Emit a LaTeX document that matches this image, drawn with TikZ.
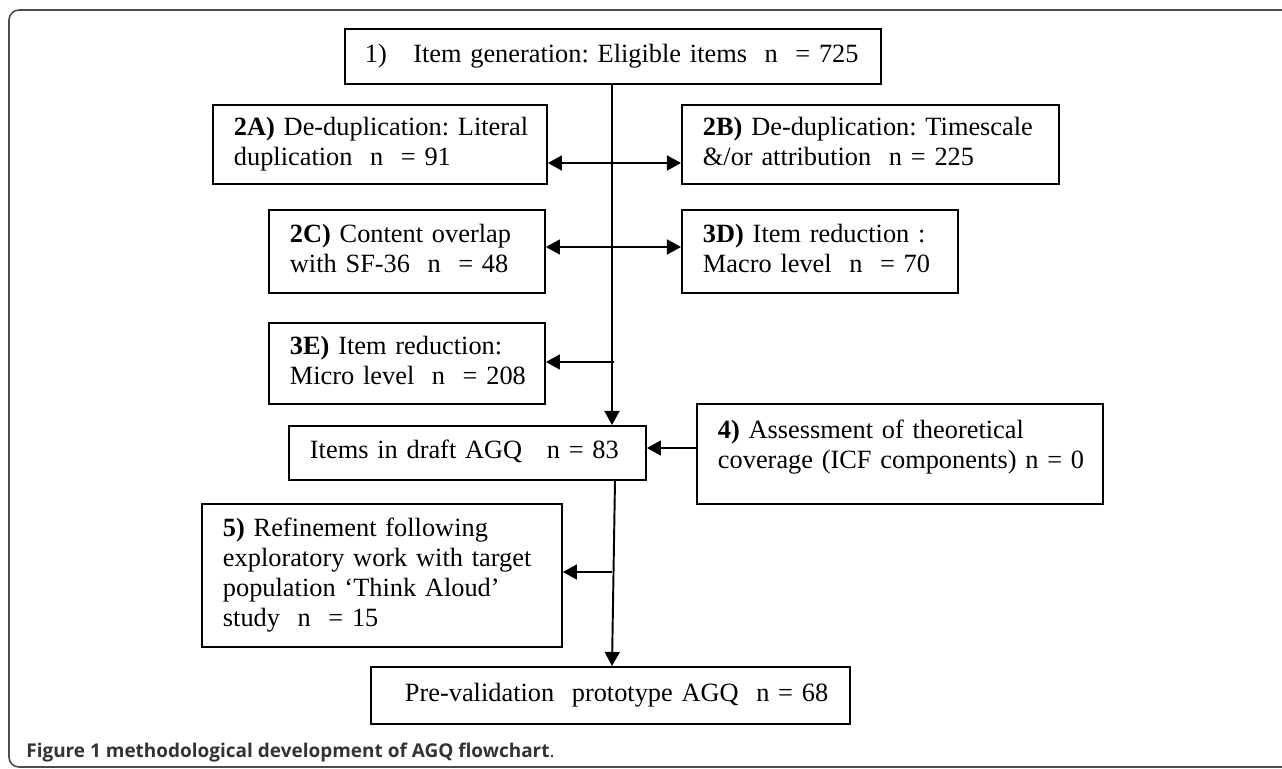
\documentclass[tikz,border=0pt]{standalone}
\usepackage{fontspec}
\setmainfont{Liberation Serif}
\newfontfamily\capfont{Open Sans}
\usetikzlibrary{arrows.meta}
\frenchspacing
\definecolor{framegray}{rgb}{0.3,0.3,0.3}
\definecolor{capgray}{rgb}{0.2,0.2,0.2}
% lines of a box, kept on the left, never broken
\newcommand{\boxlines}[1]{\begin{tabular}{@{}l@{}}#1\end{tabular}}
\tikzset{
    stage/.style={draw, line width=1.1pt, anchor=north west, inner ysep=0pt,
        inner xsep=0.42cm, align=left, font=\fontsize{15}{17}\selectfont},
    flow/.style={line width=1.1pt, -{Triangle[length=8pt,width=8.5pt]}}
}
\begin{document}
\begin{tikzpicture}[x=0.02cm,y=-0.02cm]
    \useasboundingbox (0,0) rectangle (1282,768);
    \clip (0,0) rectangle (1282,768);

    % outer frame, open to the right and bottom
    \draw[framegray, line width=0.9pt, rounded corners=0.2cm] (1300,10) -- (9,10) -- (9,767) -- (1300,767);

    % the boxes
    \node[stage, inner xsep=0.4cm, minimum width=10.72cm, minimum height=1.1cm, text width=9.92cm] (start) at (344,28)
        {\boxlines{1)\hspace{15pt}Item generation: Eligible items\ \ n\ \ = 725}};
    \node[stage, minimum width=6.68cm, minimum height=1.58cm, text width=5.84cm] (dedupA) at (212,104)
        {\boxlines{\textbf{2A)} De-duplication: Literal\\duplication\ \ n\ \ = 91}};
    \node[stage, minimum width=7.54cm, minimum height=1.58cm, text width=6.7cm] (dedupB) at (681,104)
        {\boxlines{\textbf{2B)} De-duplication: Timescale\\\&/or attribution\ \ n = 225}};
    \node[stage, minimum width=5.52cm, minimum height=1.66cm, text width=4.68cm] (overlap) at (268,209)
        {\boxlines{\textbf{2C)} Content overlap\\with SF-36\ \ n\ \ = 48}};
    \node[stage, minimum width=5.52cm, minimum height=1.66cm, text width=4.68cm] (macrolvl) at (681,209)
        {\boxlines{\textbf{3D)} Item reduction :\\Macro level\ \ n\ \ = 70}};
    \node[stage, minimum width=5.52cm, minimum height=1.62cm, text width=4.68cm] (microlvl) at (268,322)
        {\boxlines{\textbf{3E)} Item reduction:\\Micro level\ \ n\ \ = 208}};
    \node[stage, minimum width=7.14cm, minimum height=1.08cm, text width=6.3cm] (draft) at (288,425)
        {\boxlines{Items in draft AGQ\hspace{14pt}n = 83}};
    \node[stage, minimum width=8.12cm, minimum height=2.0cm, text width=7.28cm] (theory) at (696,403)
        {\boxlines{\textbf{4)} Assessment of theoretical\\coverage (ICF components) n = 0\\[7pt]}};
    \node[stage, minimum width=7.2cm, minimum height=2.86cm, text width=6.36cm] (refine) at (201,503)
        {\boxlines{\textbf{5)} Refinement following\\exploratory work with target\\population `Think Aloud'\\study\ \ n\ \ = 15}};
    \node[stage, inner xsep=0.68cm, minimum width=9.58cm, minimum height=1.14cm, text width=8.22cm] (final) at (370,666)
        {\boxlines{Pre-validation\ \ prototype AGQ\ \ n = 68}};

    % the trunk and its branches
    \coordinate (trunk) at (612,0);
    \coordinate (trunkb) at (615,0);
    \coordinate (jAB) at (612,163);
    \coordinate (jCD) at (612,247);
    \coordinate (jE) at (614,362);
    \coordinate (jF) at (612,572);
    \coordinate (jT) at (696,448);

    \draw[flow] (start.south -| trunk) -- (draft.north -| trunk);
    \draw[flow] (jAB) -- (dedupA.east |- jAB);
    \draw[flow] (jAB) -- (dedupB.west |- jAB);
    \draw[flow] (jCD) -- (overlap.east |- jCD);
    \draw[flow] (jCD) -- (macrolvl.west |- jCD);
    \draw[flow] (jE) -- (microlvl.east |- jE);
    \draw[flow] (jT) -- (draft.east |- jT);
    \draw[flow] (draft.south -| trunkb) -- (final.north -| trunk);
    \draw[flow] (jF) -- (refine.east |- jF);

    % caption
    \node[anchor=base west, inner sep=0pt, capgray, font=\capfont\bfseries\fontsize{10.8}{13}\selectfont] (cap) at (26,757)
        {Figure 1 methodological development of AGQ flowchart\textmd{.}};
\end{tikzpicture}
\end{document}
